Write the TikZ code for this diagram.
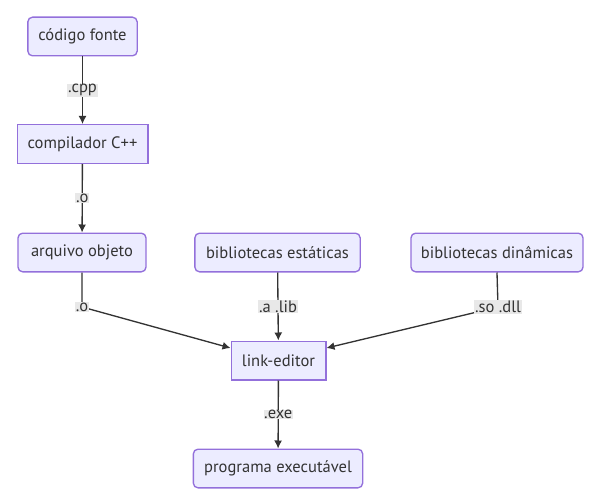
\documentclass[tikz,border=0pt]{standalone}
\usepackage{fontspec}
\setmainfont{PT Sans}
\usetikzlibrary{arrows.meta}
\definecolor{nodefill}{HTML}{ECECFF}
\definecolor{nodeborder}{HTML}{9370DB}
\definecolor{edgecol}{HTML}{333333}
\definecolor{lblbg}{HTML}{E8E8E8}
\definecolor{txt}{HTML}{333333}
\tikzset{
  box/.style={draw=nodeborder, fill=nodefill, line width=1pt, text=txt, font=\fontsize{12.4}{14}\selectfont, inner sep=0pt, minimum height=29pt},
  rbox/.style={box, rounded corners=3.5pt},
  lbl/.style={fill=lblbg, text=txt, font=\fontsize{12.4}{14}\selectfont, inner sep=0.5pt},
  edge/.style={draw=edgecol, line width=1pt, -{Latex[length=6pt,width=6pt]}},
}
\begin{document}
\begin{tikzpicture}[x=0.75pt,y=-0.75pt]
\useasboundingbox (0,0) rectangle (597,503);
\node[rbox, minimum width=82pt] (cf) at (82.5,36.5) {código fonte};
\node[box, minimum width=98pt] (cc) at (82.5,144) {compilador C++};
\node[rbox, minimum width=96pt] (ao) at (82,252.5) {arquivo objeto};
\node[rbox, minimum width=124pt] (be) at (277.5,252.5) {bibliotecas estáticas};
\node[rbox, minimum width=129pt] (bd) at (497,252.5) {bibliotecas dinâmicas};
\node[box, minimum width=71pt] (le) at (278.5,360.5) {link-editor};
\node[rbox, minimum width=127pt] (pe) at (278,468.5) {programa executável};

\coordinate (c1) at (82,307);
\coordinate (c3) at (498,307);

\draw[edge] (cf) -- node[lbl] {.cpp} (cc);
\draw[edge] (cc) -- node[lbl] {.o} (ao);
\draw[edge] (ao.south) -- (c1) -- (le.west |- 0,348);
\node[lbl] at (c1) {.o};
\draw[edge] (be) -- node[lbl, pos=0.5] {.a .lib} (le);
\draw[edge] (bd.south) -- (c3) -- (le.east |- 0,348);
\node[lbl] at (c3) {.so .dll};
\draw[edge] (le) -- node[lbl] {.exe} (pe);
\end{tikzpicture}
\end{document}
